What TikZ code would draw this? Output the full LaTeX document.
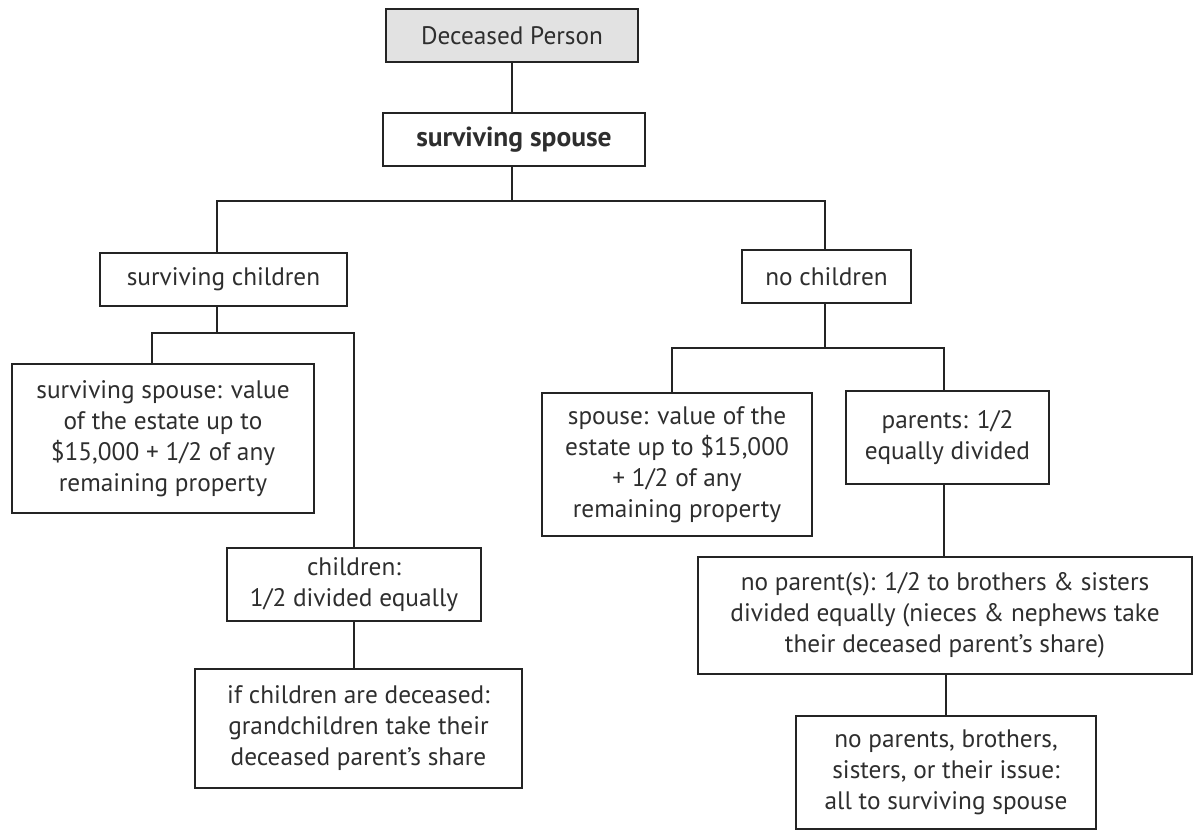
\documentclass[tikz,border=0pt]{standalone}
\usepackage{fontspec}
\setmainfont{PT Sans}
\definecolor{linec}{HTML}{242424}
\definecolor{textc}{HTML}{2E2E2E}
\definecolor{fillc}{HTML}{E2E2E2}
\begin{document}
\begin{tikzpicture}[x=1pt,y=-1pt,
  box/.style={draw=linec, line width=2.7pt, text=textc, align=center, inner sep=0pt,
    font=\fontsize{25.3}{31}\selectfont},
  conn/.style={draw=linec, line width=2.7pt, line cap=rect}]
\useasboundingbox (0,0) rectangle (1196,831);
\node[box, fill=fillc, minimum width=252pt, minimum height=53pt] (dp) at (512,35.5) {Deceased Person};
\node[box, minimum width=262pt, minimum height=53pt, font=\fontsize{27.5}{31}\selectfont\bfseries] (ss) at (514,139.5) {surviving spouse};
\node[box, minimum width=247pt, minimum height=53pt] (sc) at (223.5,279.5) {surviving children};
\node[box, minimum width=169pt, minimum height=53pt] (nc) at (826.5,276.5) {no children};
\node[box, minimum width=302pt, minimum height=149pt] (ssv) at (163,438.5) {surviving spouse: value\\of the estate up to\\\$15,000 + 1/2 of any\\remaining property};
\node[box, minimum width=254pt, minimum height=73pt] (ch) at (354,584.5) {children:\\1/2 divided equally};
\node[box, minimum width=327pt, minimum height=119pt] (gc) at (358.5,728.5) {if children are deceased:\\grandchildren take their\\deceased parent’s share};
\node[box, minimum width=270pt, minimum height=143pt] (sp) at (677,464.5) {spouse: value of the\\estate up to \$15,000\\+ 1/2 of any\\remaining property};
\node[box, minimum width=203pt, minimum height=93pt] (pa) at (947.5,437.5) {parents: 1/2\\equally divided};
\node[box, minimum width=494pt, minimum height=117pt] (np) at (945,615.5) {no parent(s): 1/2 to brothers \& sisters\\divided equally (nieces \& nephews take\\their deceased parent’s share)};
\node[box, minimum width=300pt, minimum height=113pt] (nps) at (946,772.5) {no parents, brothers,\\sisters, or their issue:\\all to surviving spouse};
\coordinate (L1) at (217,201);
\coordinate (R1) at (825,201);
\coordinate (L2) at (152,333);
\coordinate (R2) at (354,333);
\coordinate (L3) at (672,348);
\coordinate (R3) at (944,348);
\draw[conn] (dp.south) -- (dp.south |- ss.north);
\draw[conn] (dp.south |- ss.south) -- (dp.south |- L1);
\draw[conn] (L1 |- sc.north) -- (L1) -- (R1) -- (R1 |- nc.north);
\draw[conn] (L1 |- sc.south) -- (L1 |- L2);
\draw[conn] (L2 |- ssv.north) -- (L2) -- (R2) -- (R2 |- ch.north);
\draw[conn] (R2 |- ch.south) -- (R2 |- gc.north);
\draw[conn] (R1 |- nc.south) -- (R1 |- L3);
\draw[conn] (L3 |- sp.north) -- (L3) -- (R3) -- (R3 |- pa.north);
\draw[conn] (R3 |- pa.south) -- (R3 |- np.north);
\draw[conn] (np.south -| nps.north) -- (nps.north);
\end{tikzpicture}
\end{document}
